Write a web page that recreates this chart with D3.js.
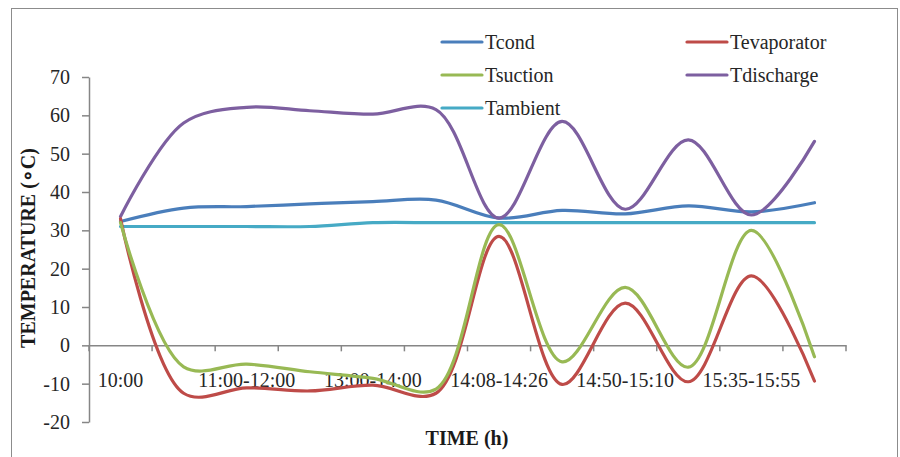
<!DOCTYPE html>
<html>
<head>
<meta charset="utf-8">
<script src="https://cdn.jsdelivr.net/npm/d3@7"></script>
<style>
  body { margin: 0; background: #fff; }
</style>
</head>
<body>
<div id="chart"></div>
<script>
// 12 time steps, only every other one is labelled on the axis
var categories = [0, 1, 2, 3, 4, 5, 6, 7, 8, 9, 10, 11];
var tickLabels = ["10:00", "", "11:00-12:00", "", "13:00-14:00", "", "14:08-14:26", "", "14:50-15:10", "", "15:35-15:55", ""];
var yTicks = [-20, -10, 0, 10, 20, 30, 40, 50, 60, 70];

var tcond = [32.3, 35.8, 36.2, 36.9, 37.5, 37.9, 33.2, 35.2, 34.3, 36.4, 34.8, 37.2];
var tevaporator = [33, -12.5, -11.1, -11.9, -10.4, -12.5, 28.4, -10.2, 11, -9.5, 18.1, -9.3];
var tsuction = [32, -5.6, -4.9, -6.9, -8.6, -11.4, 31.5, -4.3, 15.1, -5.7, 30, -3];
var tdischarge = [33.6, 58, 62.1, 61.2, 60.3, 61.5, 33.2, 58.4, 35.5, 53.6, 34, 53.2];
var tambient = [31, 31, 31, 31, 32, 32, 32, 32, 32, 32, 32, 32];

var series = [
    { name: "Tcond", values: tcond, color: "#4a7ebb" },
    { name: "Tevaporator", values: tevaporator, color: "#be4b48" },
    { name: "Tsuction", values: tsuction, color: "#98b954" },
    { name: "Tdischarge", values: tdischarge, color: "#7d5fa0" },
    { name: "Tambient", values: tambient, color: "#46aac5" }
];

var font = "Liberation Serif";
var width = 900, height = 457;
var svg = d3.select("#chart").append("svg")
    .attr("xmlns", "http://www.w3.org/2000/svg")
    .attr("width", width)
    .attr("height", height)
    .attr("font-family", font);

svg.append("style")
    .text("text { font-family: 'Liberation Serif', 'Times New Roman', serif; }");

// chart frame
svg.append("rect")
    .attr("x", 11.5).attr("y", 8.5)
    .attr("width", 886).attr("height", 460)
    .attr("fill", "none")
    .attr("stroke", "#8c8c8c");

var x = d3.scaleBand().domain(categories).range([89, 846]);
var y = d3.scaleLinear().domain([-20, 70]).range([422, 77]);

var axisColor = "#868686";
var textColor = "#262626";

// y axis
var yAxis = svg.append("g")
    .attr("transform", "translate(89,0)")
    .call(d3.axisLeft(y).tickValues(yTicks).tickFormat(d => String(d))
        .tickSize(7).tickSizeOuter(0).tickPadding(12));
yAxis.attr("font-family", font).attr("font-size", 20);
yAxis.select(".domain").attr("stroke", axisColor).attr("stroke-width", 1.5);
yAxis.selectAll(".tick line").attr("stroke", axisColor).attr("stroke-width", 1.5);
yAxis.selectAll(".tick text")
    .attr("fill", textColor)
    .attr("font-family", font)
    .attr("font-size", 20);

// x axis at zero, labels placed low
var xAxis = svg.append("g")
    .attr("transform", "translate(0," + y(0) + ")")
    .call(d3.axisBottom(x).tickFormat("").tickSize(0).tickSizeOuter(0));
xAxis.select(".domain").attr("stroke", axisColor).attr("stroke-width", 1.5);
xAxis.selectAll(".tick").remove();

var edges = categories.map(d => x(d)).concat([x.range()[1]]);
svg.append("g").selectAll("line")
    .data(edges)
    .enter()
    .append("line")
    .attr("x1", d => d).attr("x2", d => d)
    .attr("y1", y(0)).attr("y2", y(0) + 6)
    .attr("stroke", axisColor)
    .attr("stroke-width", 1.5);

svg.append("g").selectAll("text")
    .data(categories)
    .enter()
    .append("text")
    .attr("x", d => x(d) + x.bandwidth() / 2)
    .attr("y", 387)
    .attr("text-anchor", "middle")
    .attr("fill", textColor)
    .attr("font-family", font)
    .attr("font-size", 20)
    .text(d => tickLabels[d]);

// axis titles
svg.append("text")
    .attr("transform", "translate(35,248) rotate(-90)")
    .attr("text-anchor", "middle")
    .attr("fill", "#1a1a1a")
    .attr("font-family", font)
    .attr("font-size", 20)
    .attr("font-weight", "bold")
    .text("TEMPERATURE (\u2218C)");

svg.append("text")
    .attr("x", 467)
    .attr("y", 445)
    .attr("text-anchor", "middle")
    .attr("fill", "#1a1a1a")
    .attr("font-family", font)
    .attr("font-size", 20)
    .attr("font-weight", "bold")
    .text("TIME (h)");

// smoothed lines
var line = d3.line()
    .x((d, i) => x(categories[i]) + x.bandwidth() / 2)
    .y(d => y(d))
    .curve(d3.curveCatmullRom.alpha(0.5));

var drawOrder = [series[4], series[0], series[3], series[1], series[2]];
svg.append("g").selectAll("path")
    .data(drawOrder)
    .enter()
    .append("path")
    .attr("d", d => line(d.values))
    .attr("fill", "none")
    .attr("stroke", d => d.color)
    .attr("stroke-width", 3.2)
    .attr("stroke-linejoin", "round")
    .attr("stroke-linecap", "round");

// legend
var legendPos = [[442, 42], [687, 42], [442, 75], [687, 75], [442, 108]];
var legend = svg.append("g").selectAll("g")
    .data(series)
    .enter()
    .append("g")
    .attr("transform", (d, i) => "translate(" + legendPos[i][0] + "," + legendPos[i][1] + ")");
legend.append("line")
    .attr("x1", 0).attr("x2", 40)
    .attr("stroke", d => d.color)
    .attr("stroke-width", 3.2)
    .attr("stroke-linecap", "round");
legend.append("text")
    .attr("x", 43)
    .attr("y", 7)
    .attr("fill", textColor)
    .attr("font-family", font)
    .attr("font-size", 20)
    .text(d => d.name);
</script>
</body>
</html>
